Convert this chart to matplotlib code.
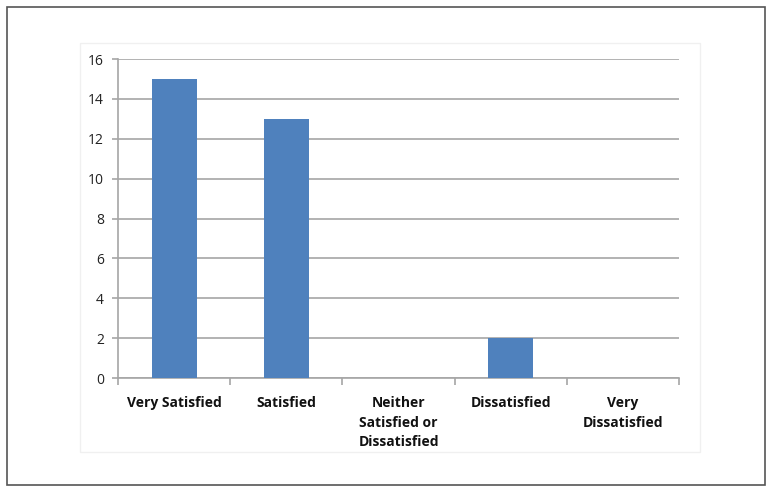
import matplotlib.pyplot as plt
import matplotlib.patches as patches
import numpy as np

# === DATA ===
categories = ["Very Satisfied", "Satisfied", "Neither\nSatisfied or\nDissatisfied",
              "Dissatisfied", "Very\nDissatisfied"]
counts = [15, 13, 0, 2, 0]
y_ticks = [0, 2, 4, 6, 8, 10, 12, 14, 16]

# === STYLE ===
W, H = 773, 492
DPI = 100
BAR_COLOR = "#4F81BD"
GRID_COLOR = "#A6A6A6"

plt.rcParams["font.family"] = ["Open Sans", "DejaVu Sans"]

fig = plt.figure(figsize=(W / DPI, H / DPI), dpi=DPI, facecolor="white")

# outer frame and faint chart-area box
fig.add_artist(patches.Rectangle((7 / W, 1 - 485 / H), 758 / W, 478 / H,
                                 transform=fig.transFigure, fill=False,
                                 edgecolor="#555555", linewidth=1.2))
fig.add_artist(patches.Rectangle((80 / W, 1 - 452 / H), 620 / W, 409 / H,
                                 transform=fig.transFigure, fill=False,
                                 edgecolor="#F0F0F0", linewidth=1))

ax = fig.add_axes([118 / W, 1 - 378 / H, (679 - 118) / W, (378 - 59) / H])

x = np.arange(len(categories))
ax.bar(x, counts, width=0.4, color=BAR_COLOR, zorder=3)

ax.set_xlim(-0.5, len(categories) - 0.5)
ax.set_ylim(0, 16)
ax.set_yticks(y_ticks)
ax.yaxis.grid(True, color=GRID_COLOR, linewidth=1.2, zorder=0)

for side in ("top", "right"):
    ax.spines[side].set_visible(False)
for side in ("left", "bottom"):
    ax.spines[side].set_color(GRID_COLOR)
    ax.spines[side].set_linewidth(1.2)

ax.tick_params(axis="y", length=4, color=GRID_COLOR, width=1.2,
               labelsize=10, pad=6, labelcolor="#222222")
ax.set_xticks(x)
ax.set_xticklabels(categories, fontsize=10, fontweight="bold",
                   linespacing=1.5, color="#111111")
ax.set_xticks(np.arange(-0.5, len(categories)), minor=True)
ax.tick_params(axis="x", which="major", length=0, pad=13)
ax.tick_params(axis="x", which="minor", length=5, color=GRID_COLOR, width=1.2)

fig.savefig("out.png", dpi=DPI, facecolor="white")
